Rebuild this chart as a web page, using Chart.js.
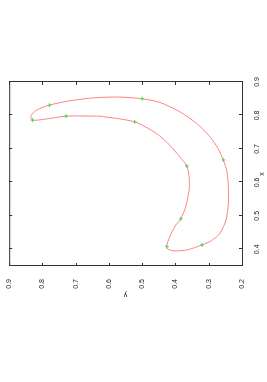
<!DOCTYPE html>
<html>
<head>
<meta charset="utf-8">
<script src="https://cdn.jsdelivr.net/npm/chart.js@4.4.1/dist/chart.umd.min.js"></script>
<style>
  html, body { margin: 0; padding: 0; background: #fff; overflow: hidden; }
  body { width: 267px; height: 382px; position: relative; }
  /* gnuplot landscape page: the plot is drawn upright, then turned a quarter left */
  #page {
    position: absolute; left: 0; top: 0;
    width: 382px; height: 267px;
    transform-origin: 0 0;
    transform: translate(0, 382px) rotate(-90deg);
  }
</style>
</head>
<body>
<div id="page"><canvas id="plot" width="382" height="267"></canvas></div>
<script>
// tick positions
const xTickVals = [0.4, 0.5, 0.6, 0.7, 0.8, 0.9];
const yTickVals = [0.2, 0.3, 0.4, 0.5, 0.6, 0.7, 0.8, 0.9];

// red closed curve (goes round the crescent once)
const curveX = [0.798, 0.781, 0.746, 0.711, 0.676, 0.649, 0.617, 0.578, 0.528, 0.491,
                0.468, 0.438, 0.408, 0.400, 0.395, 0.398, 0.413, 0.426, 0.448, 0.488,
                0.538, 0.587, 0.631, 0.667, 0.701, 0.736, 0.776, 0.811, 0.839, 0.850,
                0.855, 0.853, 0.844, 0.831, 0.817, 0.799, 0.786, 0.789, 0.798, 0.798];
const curveY = [0.627, 0.523, 0.457, 0.417, 0.387, 0.366, 0.359, 0.359, 0.369, 0.384,
                0.402, 0.417, 0.427, 0.422, 0.402, 0.366, 0.320, 0.291, 0.266, 0.248,
                0.241, 0.241, 0.245, 0.256, 0.272, 0.296, 0.336, 0.387, 0.447, 0.500,
                0.567, 0.642, 0.717, 0.779, 0.816, 0.835, 0.830, 0.792, 0.729, 0.627];

// green control points
const knotX = [0.786, 0.798, 0.781, 0.649, 0.491, 0.408, 0.413, 0.667, 0.850, 0.831];
const knotY = [0.830, 0.729, 0.523, 0.366, 0.384, 0.426, 0.320, 0.256, 0.500, 0.779];

const labelFont = { family: "'Liberation Sans', Arial, sans-serif", size: 7 };

// frame + inward ticks on all four sides, like gnuplot
const framePlugin = {
    id: 'frame',
    afterDraw(chart) {
        const { ctx, chartArea: a, scales } = chart;
        ctx.save();
        ctx.strokeStyle = '#333';
        ctx.lineWidth = 1;
        ctx.strokeRect(a.left + 0.5, a.top + 0.5, a.right - a.left, a.bottom - a.top);
        ctx.beginPath();
        xTickVals.forEach(v => {
            const p = Math.round(scales.x.getPixelForValue(v)) + 0.5;
            ctx.moveTo(p, a.bottom); ctx.lineTo(p, a.bottom - 3);
            ctx.moveTo(p, a.top); ctx.lineTo(p, a.top + 3);
        });
        yTickVals.forEach(v => {
            const p = Math.round(scales.y.getPixelForValue(v)) + 0.5;
            ctx.moveTo(a.left, p); ctx.lineTo(a.left + 3, p);
            ctx.moveTo(a.right, p); ctx.lineTo(a.right - 3, p);
        });
        ctx.stroke();
        ctx.restore();
    }
};

const ctx = document.getElementById('plot').getContext('2d');
new Chart(ctx, {
    type: 'scatter',
    data: {
        datasets: [
            {
                label: 'points',
                data: knotX.map((x, i) => ({ x: x, y: knotY[i] })),
                pointStyle: 'cross',
                pointRadius: 2,
                pointBorderWidth: 1,
                borderColor: '#4cdc4c',
                backgroundColor: '#4cdc4c',
                showLine: false
            },
            {
                label: 'curve',
                data: curveX.map((x, i) => ({ x: x, y: curveY[i] })),
                showLine: true,
                tension: 0.25,
                borderColor: '#ff8080',
                borderWidth: 1,
                pointRadius: 0
            }
        ]
    },
    options: {
        responsive: false,
        animation: false,
        devicePixelRatio: 1,
        layout: { padding: { top: 9, right: 82, left: 0, bottom: 0 } },
        plugins: { legend: { display: false }, tooltip: { enabled: false } },
        scales: {
            x: {
                type: 'linear',
                min: 0.35,
                max: 0.9,
                afterBuildTicks: s => { s.ticks = xTickVals.map(v => ({ value: v })); },
                afterFit: s => { s.height = 25; },
                grid: { display: false },
                border: { display: false },
                ticks: {
                    padding: 3,
                    color: '#222',
                    font: labelFont,
                    maxRotation: 0,
                    callback: v => v.toFixed(1)
                },
                title: { display: true, text: 'x', color: '#222', font: labelFont, padding: { top: 0, bottom: 1 } }
            },
            y: {
                type: 'linear',
                min: 0.2,
                max: 0.9,
                afterBuildTicks: s => { s.ticks = yTickVals.map(v => ({ value: v })); },
                afterFit: s => { s.width = 116; },
                grid: { display: false },
                border: { display: false },
                ticks: {
                    padding: 5,
                    color: '#222',
                    font: labelFont,
                    callback: v => v.toFixed(1)
                },
                title: { display: true, text: 'y', color: '#222', font: labelFont, padding: { top: 83, bottom: 0 } }
            }
        }
    },
    plugins: [framePlugin]
});
</script>
</body>
</html>
